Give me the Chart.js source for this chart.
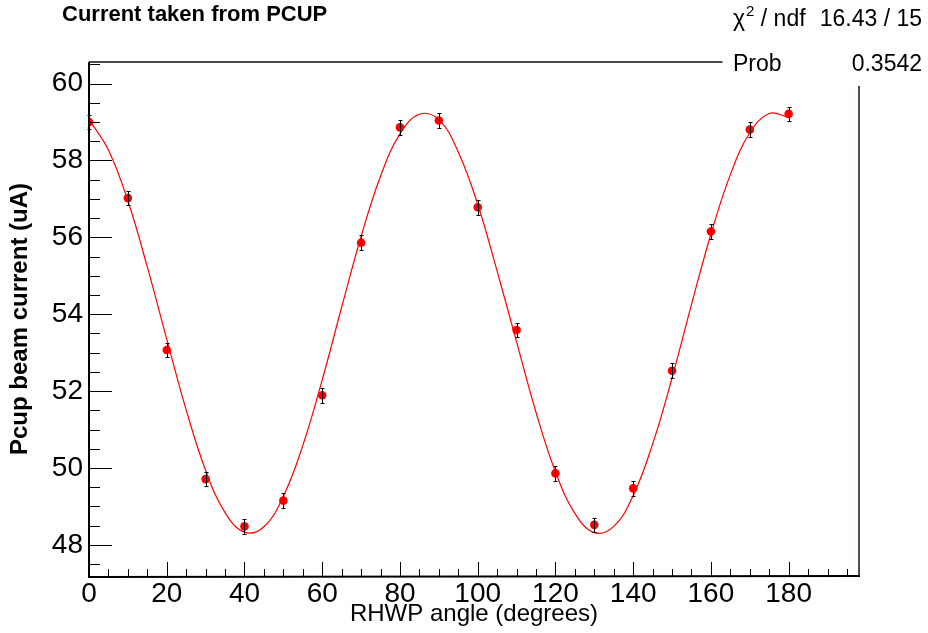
<!DOCTYPE html>
<html>
<head>
<meta charset="utf-8">
<script src="https://cdn.jsdelivr.net/npm/chart.js@4.4.1/dist/chart.umd.min.js"></script>
<style>html,body{margin:0;padding:0;background:#fff;}canvas{display:block;}</style>
</head>
<body>
<canvas id="c" width="928" height="633"></canvas>
<script>
// ---- data ----
const angles     = [0, 10, 20, 30, 40, 50, 60, 70, 80, 90, 100, 110, 120, 130, 140, 150, 160, 170, 180];
const current    = [59.00, 57.02, 53.07, 49.71, 48.48, 49.15, 51.89, 55.86, 58.86, 59.04, 56.78, 53.59, 49.86, 48.52, 49.47, 52.53, 56.15, 58.80, 59.21];
const currentErr = [0.19, 0.19, 0.19, 0.19, 0.19, 0.19, 0.19, 0.19, 0.19, 0.19, 0.19, 0.19, 0.19, 0.19, 0.19, 0.19, 0.19, 0.19, 0.19];
const fitAngles  = [0, 5, 10, 15, 20, 25, 30, 35, 40, 45, 50, 55, 60, 65, 70, 75, 80, 85, 90,
                    95, 100, 105, 110, 115, 120, 125, 130, 135, 140, 145, 150, 155, 160, 165, 170, 175, 180];
const fitCurrent = [59.06, 58.27, 56.95, 55.23, 53.35, 51.51, 49.94, 48.84, 48.33, 48.47, 49.26, 50.58, 52.29, 54.18, 56.02, 57.59, 58.69, 59.20, 59.06,
                    58.22, 56.86, 55.12, 53.28, 51.45, 49.90, 48.82, 48.32, 48.48, 49.28, 50.62, 52.34, 54.25, 56.08, 57.63, 58.72, 59.22, 59.12];
const xTickLabels = [0, 20, 40, 60, 80, 100, 120, 140, 160, 180];
const yTickLabels = [48, 50, 52, 54, 56, 58, 60];
const xMinorStep = 5;
const yMinorStep = 0.5;
const titleText = 'Current taken from PCUP';
const xTitleText = 'RHWP angle (degrees)';
const yTitleText = 'Pcup beam current (uA)';
const statNames  = ['χ', 'Prob'];
const statValues = ['16.43 / 15', '0.3542'];

const F = "'Liberation Sans', Arial, Helvetica, sans-serif";

const rootStyle = {
  id: 'rootStyle',
  afterDatasetsDraw(chart) {
    const {ctx, chartArea: a, scales: {x, y}} = chart;
    ctx.save();
    // error bars
    ctx.strokeStyle = '#000';
    ctx.lineWidth = 1;
    angles.forEach((ang, i) => {
      const px = Math.round(x.getPixelForValue(ang)) + 0.5;
      const y1 = Math.round(y.getPixelForValue(current[i] + currentErr[i])) + 0.5;
      const y2 = Math.round(y.getPixelForValue(current[i] - currentErr[i])) + 0.5;
      ctx.beginPath();
      ctx.moveTo(px, y1); ctx.lineTo(px, y2);
      ctx.moveTo(px - 2, y1); ctx.lineTo(px + 2, y1);
      ctx.moveTo(px - 2, y2); ctx.lineTo(px + 2, y2);
      ctx.stroke();
    });
    // ticks on y axis (inward)
    ctx.beginPath();
    for (let v = Math.ceil(y.min / yMinorStep) * yMinorStep; v <= y.max + 1e-9; v += yMinorStep) {
      const major = yTickLabels.some(t => Math.abs(t - v) < 1e-6);
      const py = Math.round(y.getPixelForValue(v)) + 0.5;
      ctx.moveTo(a.left, py);
      ctx.lineTo(a.left + (major ? 23 : 11), py);
    }
    // ticks on x axis (inward)
    for (let v = Math.ceil(x.min / xMinorStep) * xMinorStep; v <= x.max + 1e-9; v += xMinorStep) {
      const major = xTickLabels.some(t => Math.abs(t - v) < 1e-6);
      const px = Math.round(x.getPixelForValue(v)) + 0.5;
      ctx.moveTo(px, a.bottom);
      ctx.lineTo(px, a.bottom - (major ? 14 : 7));
    }
    ctx.stroke();
    // frame
    ctx.lineWidth = 1.5;
    ctx.strokeStyle = '#1a1010';
    ctx.beginPath();
    ctx.moveTo(a.left, a.top); ctx.lineTo(a.right, a.top); ctx.lineTo(a.right, a.bottom);
    ctx.stroke();
    ctx.lineWidth = 2;
    ctx.strokeStyle = '#000';
    ctx.beginPath();
    ctx.moveTo(a.left, a.top); ctx.lineTo(a.left, a.bottom + 1); ctx.lineTo(a.right + 1, a.bottom);
    ctx.stroke();
    ctx.restore();
  },
  afterDraw(chart) {
    const {ctx} = chart;
    ctx.save();
    // stats box (white, covers frame corner)
    ctx.fillStyle = '#fff';
    ctx.fillRect(722.5, 0, 928 - 722.5, 86);
    ctx.fillStyle = '#000';
    ctx.textBaseline = 'alphabetic';
    ctx.font = '23px ' + F;
    ctx.textAlign = 'left';
    ctx.fillText(statNames[0], 733, 26);
    const wChi = ctx.measureText(statNames[0]).width;
    ctx.font = '15px ' + F;
    ctx.fillText('2', 733 + wChi + 1, 16);
    const w2 = ctx.measureText('2').width;
    ctx.font = '23px ' + F;
    ctx.fillText(' / ndf', 733 + wChi + 1 + w2, 26);
    ctx.fillText(statNames[1], 733, 71);
    ctx.textAlign = 'right';
    ctx.fillText(statValues[0], 922, 26);
    ctx.fillText(statValues[1], 922, 71);
    // title
    ctx.textAlign = 'left';
    ctx.font = 'bold 22px ' + F;
    ctx.fillText(titleText, 62, 21);
    ctx.restore();
  }
};

new Chart(document.getElementById('c'), {
  type: 'scatter',
  data: {
    datasets: [
      {
        label: 'data',
        data: angles.map((a, i) => ({x: a, y: current[i]})),
        showLine: false,
        pointRadius: 4.3,
        pointBackgroundColor: '#ff0000',
        pointBorderWidth: 0,
        pointBorderColor: '#ff0000'
      },
      {
        label: 'fit',
        data: fitAngles.map((a, i) => ({x: a, y: fitCurrent[i]})),
        showLine: true,
        pointRadius: 0,
        borderColor: '#ff0000',
        borderWidth: 1.2,
        tension: 0.4,
        fill: false
      }
    ]
  },
  options: {
    responsive: false,
    animation: false,
    devicePixelRatio: 1,
    events: [],
    layout: {padding: {left: 0, right: 69, top: 62, bottom: 0}},
    plugins: {legend: {display: false}, tooltip: {enabled: false}, title: {display: false}},
    scales: {
      x: {
        type: 'linear',
        min: 0,
        max: 198.1,
        grid: {display: false, drawTicks: false},
        border: {display: false},
        afterBuildTicks: s => { s.ticks = xTickLabels.map(v => ({value: v})); },
        afterFit: s => { s.height = 57; },
        ticks: {color: '#000', font: {family: F, size: 28}, padding: 1, maxRotation: 0, autoSkip: false},
        title: {display: true, text: xTitleText, color: '#000', font: {family: F, size: 24}, padding: {top: 0, bottom: 4}}
      },
      y: {
        type: 'linear',
        min: 47.19,
        max: 60.56,
        grid: {display: false, drawTicks: false},
        border: {display: false},
        afterBuildTicks: s => { s.ticks = yTickLabels.map(v => ({value: v})); },
        afterFit: s => { s.width = 89; },
        ticks: {color: '#000', font: {family: F, size: 28}, padding: 6, autoSkip: false},
        title: {display: true, text: yTitleText, color: '#000', font: {family: F, size: 24, weight: 'bold'}, padding: {top: 6, bottom: 0}}
      }
    }
  },
  plugins: [rootStyle]
});
</script>
</body>
</html>
